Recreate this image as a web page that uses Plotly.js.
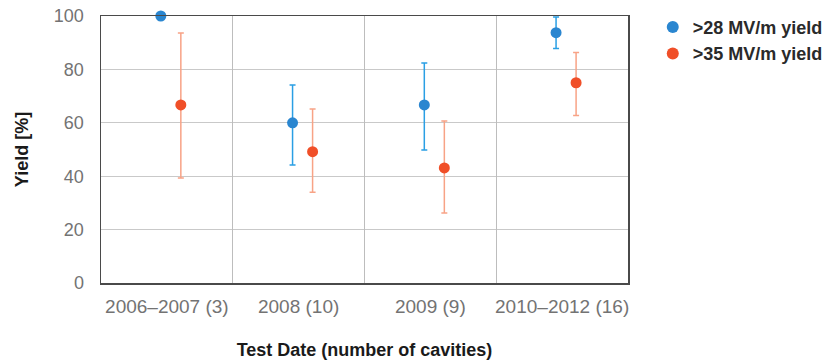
<!DOCTYPE html>
<html>
<head>
<meta charset="utf-8">
<script src="https://cdn.plot.ly/plotly-3.0.1.min.js"></script>
<style>
  html, body { margin: 0; padding: 0; background: #fff; }
  #chart { width: 827px; height: 360px; }
</style>
</head>
<body>
<div id="chart"></div>
<script>
// Test periods (number of cavities tested)
const categories = ['2006\u20132007 (3)', '2008 (10)', '2009 (9)', '2010\u20132012 (16)'];

// >28 MV/m yield [%] with error limits
const yield28 = [100, 60, 66.7, 93.75];
const yield28Upper = [100, 74.2, 82.4, 99.6];
const yield28Lower = [100, 44.2, 49.8, 87.8];

// >35 MV/m yield [%] with error limits
const yield35 = [66.7, 49.2, 43.1, 75];
const yield35Upper = [93.6, 65.2, 60.7, 86.3];
const yield35Lower = [39.3, 34, 26.2, 62.7];

const yTicks = [0, 20, 40, 60, 80, 100];

// horizontal offsets of the two series within each category slot
const OFFSET_28 = -0.046;
const OFFSET_35 = 0.106;

const idx = categories.map((_, i) => i);

function errArrays(vals, upper, lower) {
  return {
    plus: vals.map((v, i) => upper[i] - v),
    minus: vals.map((v, i) => v - lower[i])
  };
}
const e28 = errArrays(yield28, yield28Upper, yield28Lower);
const e35 = errArrays(yield35, yield35Upper, yield35Lower);

const traces = [
  {
    type: 'scatter', mode: 'markers', name: '>28 MV/m yield',
    x: idx.map(i => i + OFFSET_28), y: yield28,
    marker: { color: '#2a86d0', size: 11 },
    error_y: { type: 'data', symmetric: false, array: e28.plus, arrayminus: e28.minus,
               color: '#2a9fe4', thickness: 1.5, width: 3 },
    cliponaxis: false
  },
  {
    type: 'scatter', mode: 'markers', name: '>35 MV/m yield',
    x: idx.map(i => i + OFFSET_35), y: yield35,
    marker: { color: '#f04f28', size: 11 },
    error_y: { type: 'data', symmetric: false, array: e35.plus, arrayminus: e35.minus,
               color: '#f8a386', thickness: 1.5, width: 3 },
    cliponaxis: false
  },
  // invisible trace that carries the category-boundary grid axis
  { type: 'scatter', x: [], y: [], xaxis: 'x2', showlegend: false, hoverinfo: 'skip' }
];

const layout = {
  width: 827, height: 360,
  margin: { l: 101, r: 199, t: 16, b: 77, autoexpand: false },
  paper_bgcolor: '#fff', plot_bgcolor: '#fff',
  font: { family: 'Liberation Sans, Arial, Helvetica, sans-serif', color: '#6e6e6e' },
  showlegend: true,
  legend: {
    x: 1.047, y: 1.027, xanchor: 'left', yanchor: 'top',
    font: { size: 18, color: '#2a2a2a', family: 'Liberation Sans, Arial, sans-serif', weight: 'bold' },
    tracegroupgap: 0, itemsizing: 'constant'
  },
  xaxis: {
    range: [-0.5, 3.5],
    tickmode: 'array', tickvals: idx, ticktext: categories,
    showgrid: false, zeroline: false,
    showline: true, linecolor: '#4a4a4a', linewidth: 1.5, mirror: true,
    ticks: '', ticklabelstandoff: 6,
    tickfont: { size: 19, color: '#737373' },
    title: { text: 'Test Date (number of cavities)', standoff: 27,
             font: { size: 18, color: '#1a1a1a', weight: 'bold' } }
  },
  xaxis2: {
    overlaying: 'x', matches: 'x', range: [-0.5, 3.5],
    tickmode: 'array', tickvals: [0.5, 1.5, 2.5],
    showticklabels: false, showgrid: true, gridcolor: '#bdbdbd', gridwidth: 1,
    zeroline: false, showline: false, ticks: ''
  },
  yaxis: {
    range: [0, 100],
    tickmode: 'array', tickvals: yTicks,
    showgrid: true, gridcolor: '#c9c9c9', gridwidth: 1,
    zeroline: false,
    showline: true, linecolor: '#4a4a4a', linewidth: 1.5, mirror: true,
    ticks: '', ticklabelstandoff: 12,
    tickfont: { size: 18, color: '#737373' },
    title: { text: 'Yield [%]', standoff: 20,
             font: { size: 18, color: '#1a1a1a', weight: 'bold' } }
  }
};

Plotly.newPlot('chart', traces, layout, { displayModeBar: false, staticPlot: true });
</script>
</body>
</html>
